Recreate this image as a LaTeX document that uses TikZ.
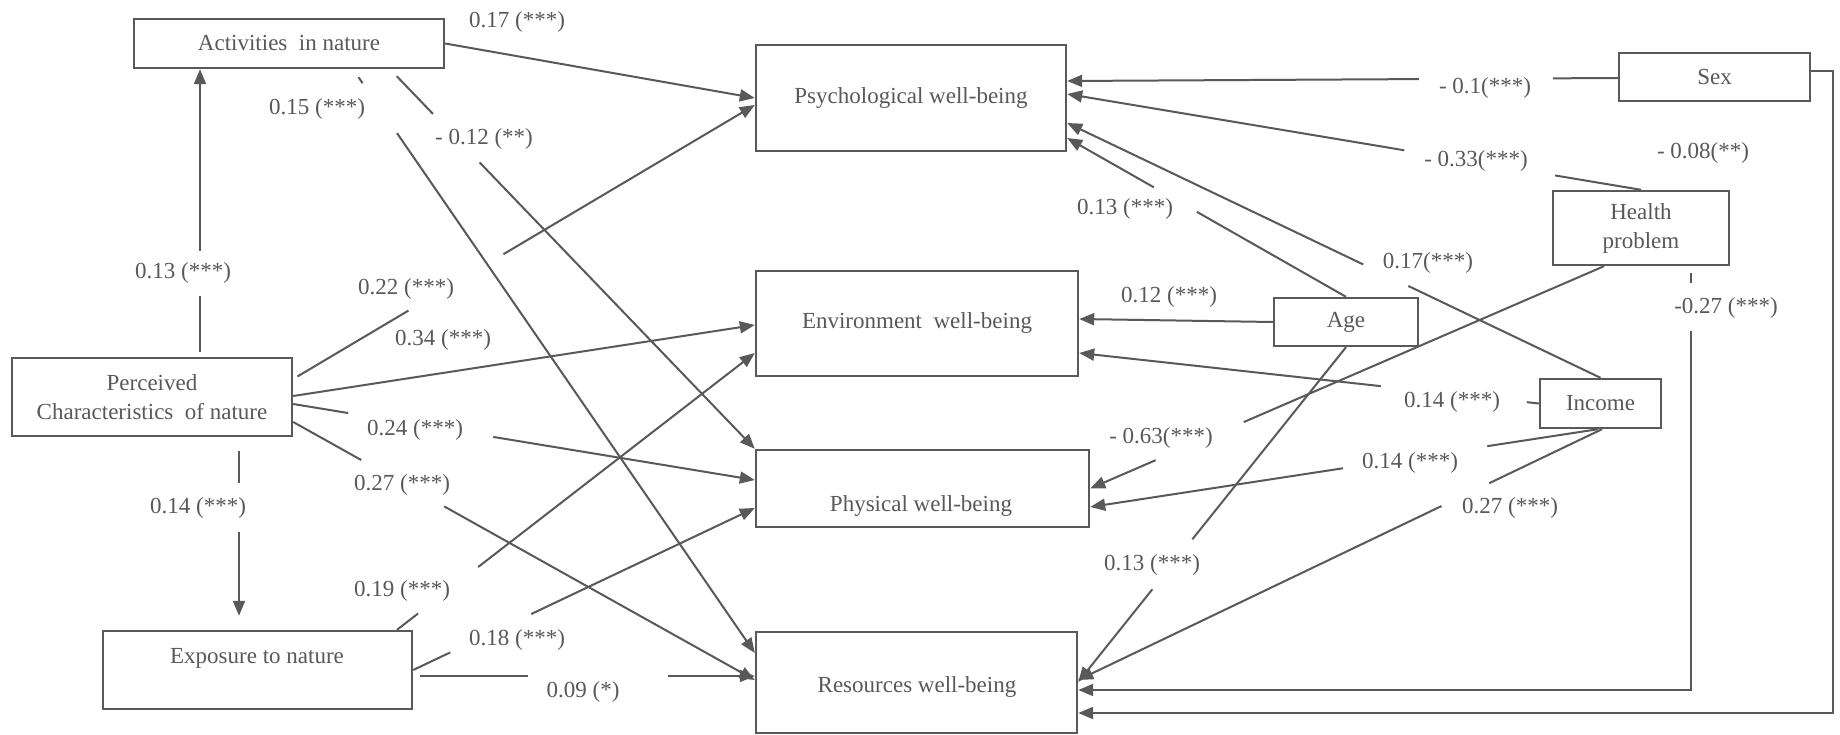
\documentclass[tikz,border=0pt]{standalone}
\usepackage{fontspec}
\setmainfont{Liberation Serif}
\usetikzlibrary{arrows.meta,calc}
\definecolor{ink}{RGB}{89,89,89}
\newcommand{\myfs}{\fontsize{23pt}{29pt}\selectfont}
\begin{document}
\begin{tikzpicture}[x=1pt,y=-1pt,
  box/.style={draw=ink,line width=2.4pt,inner sep=0pt,align=center,text=ink,font=\myfs},
  txt/.style={inner sep=0pt,text=ink,font=\myfs,align=center},
  lab/.style={inner sep=0pt,text=ink,font=\myfs},
  arr/.style={draw=ink,line width=2pt,-{Triangle[length=15pt,width=12pt]}}]
\useasboundingbox[fill=white] (0,0) rectangle (1840,735);

% boxes
\node[box,minimum width=310pt,minimum height=49pt] (act) at (289,43.5) {Activities\ \ in nature};
\node[box,minimum width=310pt,minimum height=106pt] (psy) at (911,98) {Psychological well-being};
\node[box,minimum width=322pt,minimum height=105pt] (env) at (917,323.5) {Environment\ \ well-being};
\node[box,minimum width=333pt,minimum height=77pt] (phy) at (922.5,488.5) {};
\node[txt] (phyt) at (921,506) {Physical well-being};
\node[box,minimum width=321pt,minimum height=101pt] (res) at (916.5,682.5) {};
\node[txt] (rest) at (917,687) {Resources well-being};
\node[box,minimum width=280pt,minimum height=78pt] (per) at (152,397) {Perceived\\Characteristics\ \ of nature};
\node[box,minimum width=309pt,minimum height=78pt] (expo) at (257.5,670) {};
\node[txt] (expt) at (257,658) {Exposure to nature};
\node[box,minimum width=191pt,minimum height=48pt] (sex) at (1714.5,77) {Sex};
\node[box,minimum width=176pt,minimum height=74pt] (hea) at (1641,228) {Health\\problem};
\node[box,minimum width=144pt,minimum height=48pt] (age) at (1346,322) {Age};
\node[box,minimum width=121pt,minimum height=49pt] (inc) at (1600.5,403.5) {Income};

% connectors
\draw[arr] (act.east) -- (psy.west |- 0,98);
\draw[arr,dash pattern=on 0pt off 9.7pt on 7.3pt off 60.6pt on 3000pt] (act.south -| 353,0) -- (res.west |- 0,653);
\draw[arr,dash pattern=on 0pt off 9.6pt on 52.4pt off 67.4pt on 3000pt] (act.south -| 390,0) -- (phy.north west);
\draw[arr,dash pattern=on 0pt off 5pt on 56pt off 45pt on 3000pt] (per.north -| 200,0) -- (act.south -| 200,0);
\draw[arr,shorten >=14pt,dash pattern=on 0pt off 14pt on 32pt off 49pt on 3000pt] (per.south -| 239,0) -- (expo.north -| 239,0);
\draw[arr,dash pattern=on 0pt off 5pt on 129pt off 110.5pt on 3000pt] (per.east |- 0,379) -- (psy.west |- 0,105);
\draw[arr] (per.east |- 0,396) -- (env.west |- 0,325);
\draw[arr,dash pattern=on 55.7pt off 147pt on 3000pt] (per.east |- 0,404) -- (phy.west |- 0,480);
\draw[arr,dash pattern=on 78pt off 95pt on 3000pt] (per.east |- 0,422) -- (res.west |- 0,680);
\draw[arr,dash pattern=on 26.6pt off 76pt on 3000pt] (expo.north -| 397,0) -- (env.west |- 0,353);
\draw[arr,dash pattern=on 41pt off 89.6pt on 3000pt] (expo.east |- 0,670) -- (phy.west |- 0,508);
\draw[arr,dash pattern=on 0pt off 7pt on 108pt off 140pt on 3000pt] (expo.east |- 0,676) -- (res.west |- 0,676);
\draw[arr,dash pattern=on 65pt off 134pt on 3000pt] (sex.west |- 0,78) -- (psy.east |- 0,81);
\draw[arr,dash pattern=on 87pt off 153pt on 3000pt] (hea.north) -- (psy.east |- 0,94);
\draw[arr,dash pattern=on 213pt off 50pt on 3000pt] (inc.north) -- (psy.east |- 0,123);
\draw[arr,dash pattern=on 171.6pt off 49.5pt on 3000pt] (age.north) -- (psy.east |- 0,138);
\draw[arr] (age.west) -- (env.east |- 0,319);
\draw[arr,dash pattern=on 12pt off 147pt on 3000pt] (inc.west) -- (env.east |- 0,353);
\draw[arr,dash pattern=on 112pt off 146pt on 3000pt] (inc.south -| 1598,0) -- (phy.east |- 0,507);
\draw[arr,dash pattern=on 125pt off 53pt on 3000pt] (inc.south -| 1602,0) -- (res.east |- 0,680);
\draw[arr,dash pattern=on 392.5pt off 96pt on 3000pt] (hea.south -| 1604,0) -- (phy.east);
\draw[arr,dash pattern=on 0pt off 7pt on 10pt off 48pt on 3000pt] (hea.south -| 1691,0) |- (res.east |- 0,690);
\coordinate (sexc) at (1833,713);
\draw[arr] (sex.east |- 0,71) -| (sexc) -- (res.east |- 0,713);
\draw[arr,dash pattern=on 246pt off 64pt on 3000pt] (age.south) -- (res.east |- 0,682);

% labels
\node[lab] (l1) at (517,22) {0.17 (***)};
\node[lab] (l2) at (317,109) {0.15 (***)};
\node[lab] (l3) at (484,139) {- 0.12 (**)};
\node[lab] (l4) at (183,273) {0.13 (***)};
\node[lab] (l5) at (406,289) {0.22 (***)};
\node[lab] (l6) at (443,340) {0.34 (***)};
\node[lab] (l7) at (415,430) {0.24 (***)};
\node[lab] (l8) at (402,485) {0.27 (***)};
\node[lab] (l9) at (198,508) {0.14 (***)};
\node[lab] (l10) at (402,591) {0.19 (***)};
\node[lab] (l11) at (517,640) {0.18 (***)};
\node[lab] (l12) at (583,692) {0.09 (*)};
\node[lab] (l13) at (1485,88) {- 0.1(***)};
\node[lab] (l14) at (1476,161) {- 0.33(***)};
\node[lab] (l15) at (1703,153) {- 0.08(**)};
\node[lab] (l16) at (1428,263) {0.17(***)};
\node[lab] (l17) at (1125,209) {0.13 (***)};
\node[lab] (l18) at (1169,297) {0.12 (***)};
\node[lab] (l19) at (1452,402) {0.14 (***)};
\node[lab] (l20) at (1410,463) {0.14 (***)};
\node[lab] (l21) at (1510,508) {0.27 (***)};
\node[lab] (l22) at (1161,438) {- 0.63(***)};
\node[lab] (l23) at (1726,308) {-0.27 (***)};
\node[lab] (l24) at (1152,565) {0.13 (***)};
\end{tikzpicture}
\end{document}
